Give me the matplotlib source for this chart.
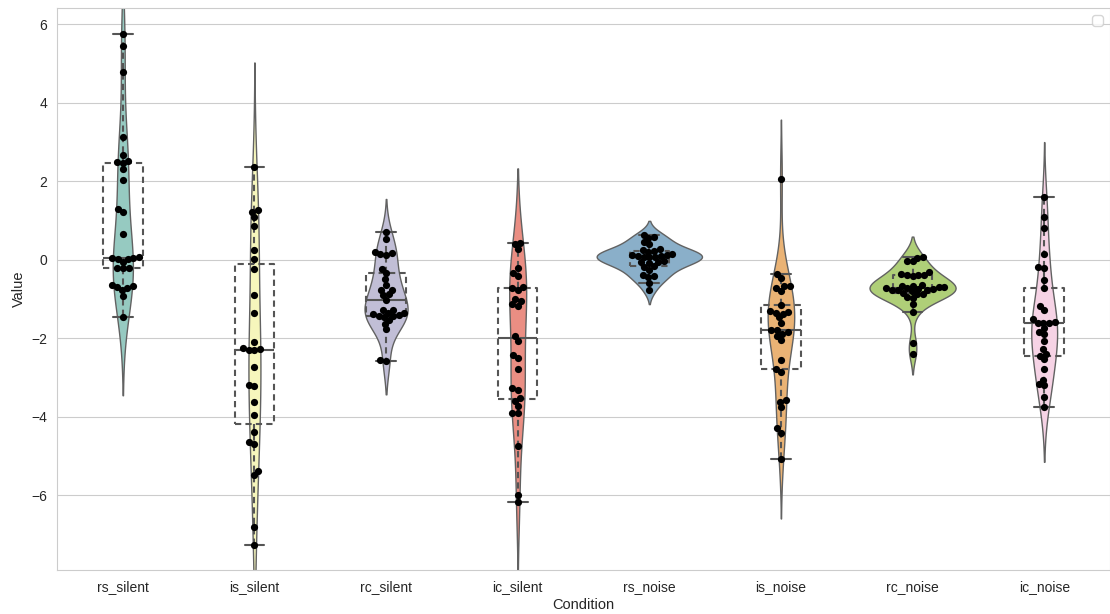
import numpy as np
import pandas as pd
import matplotlib
matplotlib.use("Agg")
import matplotlib.pyplot as plt
import seaborn as sns

# per-condition values
conditions = ["rs_silent", "is_silent", "rc_silent", "ic_silent",
              "rs_noise", "is_noise", "rc_noise", "ic_noise"]

rs_silent = [5.75, 5.43, 4.79, 3.12, 2.66, 2.52, 2.49, 2.47, 2.30, 2.03,
             1.30, 1.22, 0.66, 0.06, 0.05, 0.04, 0.03, 0.02, -0.05, -0.20,
             -0.21, -0.22, -0.65, -0.68, -0.70, -0.72, -0.78, -0.92, -1.45]
is_silent = [2.35, 1.27, 1.22, 1.09, 0.87, 0.24, 0.03, -0.24, -0.91, -1.36,
             -2.10, -2.26, -2.28, -2.29, -2.30, -2.74, -3.18, -3.22, -3.63,
             -3.95, -4.39, -4.65, -4.68, -5.37, -5.48, -6.81, -7.26]
rc_silent = [0.70, 0.52, 0.19, 0.16, 0.14, 0.12, -0.24, -0.34, -0.50, -0.64,
             -0.76, -0.77, -0.88, -0.90, -1.02, -1.27, -1.29, -1.35, -1.36,
             -1.38, -1.40, -1.42, -1.44, -1.46, -1.53, -1.63, -1.77, -2.55,
             -2.58]
ic_silent = [0.42, 0.40, 0.28, -0.21, -0.34, -0.42, -0.70, -0.72, -0.76,
             -1.00, -1.05, -1.12, -1.17, -1.94, -2.06, -2.42, -2.51, -2.79,
             -3.27, -3.31, -3.52, -3.59, -3.72, -3.89, -3.91, -4.73, -5.99,
             -6.16]
rs_noise = [0.64, 0.58, 0.55, 0.44, 0.41, 0.27, 0.25, 0.22, 0.20, 0.14,
            0.12, 0.11, 0.10, 0.09, 0.08, 0.07, 0.06, -0.04, -0.06, -0.07,
            -0.09, -0.16, -0.18, -0.25, -0.40, -0.42, -0.44, -0.58, -0.78]
is_noise = [2.06, -0.36, -0.47, -0.66, -0.68, -0.72, -0.80, -1.15, -1.30,
            -1.32, -1.35, -1.37, -1.47, -1.60, -1.78, -1.80, -1.85, -1.88,
            -1.95, -2.05, -2.55, -2.78, -2.85, -3.57, -3.61, -3.75, -4.29,
            -4.40, -5.08]
rc_noise = [0.07, 0.05, -0.02, -0.04, -0.32, -0.36, -0.38, -0.38, -0.40,
            -0.42, -0.64, -0.66, -0.68, -0.70, -0.70, -0.72, -0.73, -0.74,
            -0.75, -0.76, -0.77, -0.78, -0.80, -0.84, -0.86, -0.88, -0.95,
            -0.97, -1.12, -1.32, -2.11, -2.40]
ic_noise = [1.60, 1.10, 0.82, 0.14, -0.18, -0.20, -0.51, -0.72, -1.17,
            -1.27, -1.51, -1.58, -1.60, -1.60, -1.60, -1.74, -1.85, -1.89,
            -2.08, -2.28, -2.40, -2.44, -2.53, -2.79, -3.06, -3.16, -3.20,
            -3.50, -3.75]

groups = [rs_silent, is_silent, rc_silent, ic_silent,
          rs_noise, is_noise, rc_noise, ic_noise]

df = pd.DataFrame({
    "Condition": np.repeat(conditions, [len(g) for g in groups]),
    "Value": np.concatenate(groups),
})

sns.set_style("whitegrid")
plt.rcParams["font.family"] = ["Liberation Sans", "DejaVu Sans"]

fig = plt.figure(figsize=(11.10, 6.14), dpi=100)
ax = fig.add_axes([57 / 1110, 44 / 614, 1 - 57 / 1110, 1 - 52 / 614])

# area-normalised across all conditions, so tight groups come out wide
sns.violinplot(data=df, x="Condition", y="Value", hue="Condition",
               order=conditions, hue_order=conditions, palette="Set3",
               inner=None, linewidth=1, linecolor="gray", common_norm=True,
               legend=False, ax=ax)

box_col = "#555555"
dash = (0, (3, 2))
ax.boxplot(groups, positions=range(len(conditions)), widths=0.3,
           showfliers=False, manage_ticks=False, zorder=2,
           boxprops=dict(color=box_col, linestyle=dash, linewidth=1.5),
           whiskerprops=dict(color=box_col, linestyle=dash, linewidth=1.5),
           capprops=dict(color=box_col, linewidth=1.5),
           medianprops=dict(color=box_col, linewidth=1.5))

ax.set_xlim(-0.5, len(conditions) - 0.5)
ax.set_ylim(-7.9, 6.41)

# lay the swarm out with a slightly smaller dot, then redraw the
# same positions with bigger markers so neighbours overlap a little
n_before = len(ax.collections)
sns.swarmplot(data=df, x="Condition", y="Value", order=conditions,
              color="black", size=4.0, ax=ax, zorder=3)
fig.canvas.draw()
swarm = ax.collections[n_before:]
for coll in swarm:
    xy = np.asarray(coll.get_offsets())
    coll.remove()
    ax.scatter(xy[:, 0], xy[:, 1], s=5.2 ** 2, color="black",
               linewidths=0, zorder=3)

ax.set_xlim(-0.5, len(conditions) - 0.5)
ax.set_ylim(-7.9, 6.41)
ax.set_yticks([-6, -4, -2, 0, 2, 4, 6])
ax.tick_params(labelsize=10)
ax.set_xlabel("Condition", fontsize=10.5, labelpad=3)
ax.set_ylabel("Value", fontsize=10.5)
ax.xaxis.grid(False)
ax.legend(handles=[], loc="upper right")

fig.savefig("out.png", dpi=100)
